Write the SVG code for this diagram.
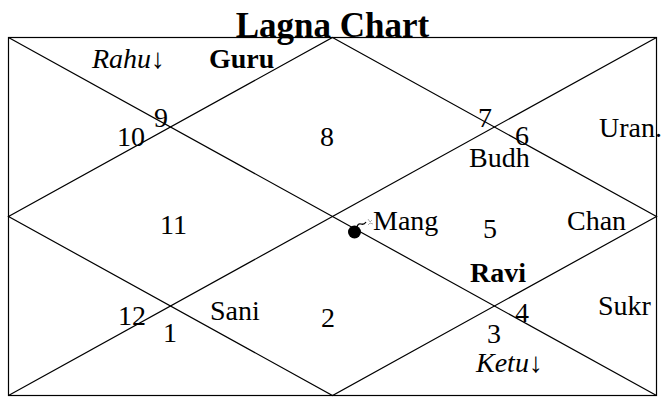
<svg xmlns="http://www.w3.org/2000/svg" width="663" height="402" viewBox="0 0 663 402">
<style>
text{font-family:"Liberation Serif","Times New Roman",serif;font-size:28px;fill:#000}
.b{font-weight:bold}
.i{font-style:italic}
.ln{stroke:#000;stroke-width:1.2;fill:none}
</style>
<rect width="663" height="402" fill="#fff"/>
<g id="connectors">
<rect class="ln" x="8.5" y="37.5" width="648" height="358"/>
<line class="ln" x1="8.5" y1="37.5" x2="656.5" y2="395.5"/>
<line class="ln" x1="656.5" y1="37.5" x2="8.5" y2="395.5"/>
<polygon class="ln" points="332.5,37.5 656.5,216.5 332.5,395.5 8.5,216.5"/>
</g>
<text id="title" class="b" x="332.5" y="37" text-anchor="middle" style="font-size:35px">Lagna Chart</text>
<g id="h9"><text class="i" x="92" y="68">Rahu↓</text><text class="b" x="209" y="68">Guru</text><text x="154" y="127">9</text></g>
<g id="h10"><text x="117" y="146">10</text></g>
<g id="h8"><text x="320" y="146">8</text></g>
<g id="h7"><text x="478" y="127">7</text></g>
<g id="h6"><text x="515" y="145">6</text><text x="599" y="137">Uran.</text></g>
<g id="h5"><text x="469" y="167">Budh</text><text x="483" y="238">5</text><text class="b" x="470" y="282">Ravi</text></g>
<g id="h4"><text x="567" y="230">Chan</text><text x="598" y="315">Sukr</text><text x="515" y="322">4</text></g>
<g id="h11"><text x="160" y="234">11</text></g>
<g id="h1"><g id="bomb"><circle cx="354.5" cy="232" r="6.5" fill="#000"/><path d="M357,227 q1,-4 4,-3 q3,1 5,-2" stroke="#000" stroke-width="1.3" fill="none"/><path d="M368,219 l2,3 M372,220 l-2,2 M368,225 l2,-2 M373,224 l-3,-1" stroke="#999" stroke-width="0.8"/></g><text x="373" y="230">Mang</text><text x="163" y="342">1</text></g>
<g id="h12"><text x="118" y="325">12</text></g>
<g id="h2"><text x="210" y="320">Sani</text><text x="321" y="327">2</text></g>
<g id="h3"><text x="487" y="343">3</text><text class="i" x="476" y="372">Ketu↓</text></g>
</svg>
